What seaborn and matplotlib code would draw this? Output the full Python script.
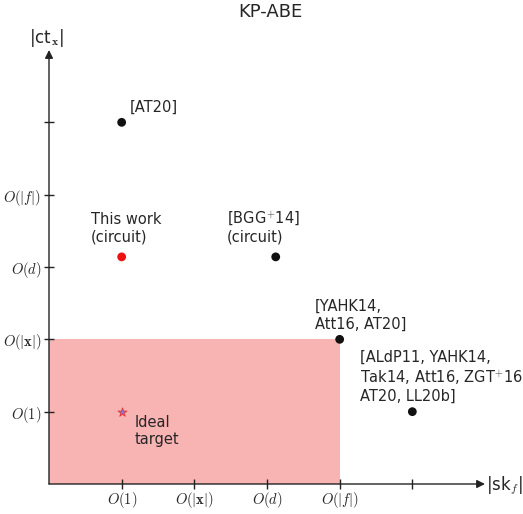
import matplotlib
matplotlib.use("Agg")
import matplotlib.pyplot as plt
import seaborn as sns
import pandas as pd
from matplotlib.patches import Rectangle

sns.set_theme(style="white")
plt.rcParams['font.family'] = ['DejaVu Sans']
plt.rcParams['mathtext.fontset'] = 'cm'

# Data
x_tick_labels = [r"$O(1)$", r"$O(|\mathbf{x}|)$", r"$O(d)$", r"$O(|f|)$", ""]
y_tick_labels = [r"$O(1)$", r"$O(|\mathbf{x}|)$", r"$O(d)$", r"$O(|f|)$", ""]
point_x = [1, 1, 3.12, 4, 5]
point_y = [5, 3.14, 3.14, 2, 1]
point_labels = ["[AT20]", "This work\n(circuit)", "[BGG$^{+}$14]\n(circuit)",
                "[YAHK14,\nAtt16, AT20]",
                "[ALdP11, YAHK14,\nTak14, Att16, ZGT$^{+}$16\nAT20, LL20b]"]
point_colors = ["#111111", "#ee1111", "#111111", "#111111", "#111111"]
target_x = [1]
target_y = [1]
target_label = "Ideal\ntarget"
region_x = 4
region_y = 2

df = pd.DataFrame({"x": point_x, "y": point_y, "label": point_labels, "color": point_colors})

W, H = 523, 514
fig = plt.figure(figsize=(W / 100, H / 100), dpi=100)
ax = fig.add_axes([49 / W, (H - 484) / H, 436 / W, 434 / H])
ax.set_xlim(0, 6)
ax.set_ylim(0, 6)

ax.add_patch(Rectangle((0, 0), region_x, region_y, facecolor="#f8b3b3", edgecolor="none", zorder=0))

sns.scatterplot(data=df, x="x", y="y", hue="label", palette=dict(zip(point_labels, point_colors)),
                s=40, edgecolor="none", legend=False, ax=ax, zorder=5)
ax.scatter(target_x, target_y, marker="*", s=45, color="#8877cc", edgecolor="#ee3333",
           linewidth=0.6, zorder=5)

offsets = [(8, 8), (-31, 12), (-49, 12), (-25, 8), (-52, 8)]
for (px, py, lab), (dx, dy) in zip(zip(point_x, point_y, point_labels), offsets):
    ax.annotate(lab, (px, py), xytext=(dx * 0.72, dy * 0.72), textcoords="offset points",
                ha="left", va="bottom", fontsize=10.5, linespacing=1.22)
ax.annotate(target_label, (target_x[0], target_y[0]), xytext=(13 * 0.72, -3 * 0.72),
            textcoords="offset points", ha="left", va="top", fontsize=10.5, linespacing=1.22)

for s in ax.spines.values():
    s.set_visible(False)
ax.set_xticks([1, 2, 3, 4, 5])
ax.set_yticks([1, 2, 3, 4, 5])
ax.set_xticklabels(x_tick_labels, fontsize=10.5)
ax.set_yticklabels(y_tick_labels, fontsize=10.5)
ax.tick_params(axis="both", direction="inout", length=7, width=1, color="#222222",
               bottom=True, left=True)
ax.tick_params(axis="x", pad=1)
ax.tick_params(axis="y", pad=2)
ax.set_xlabel("")
ax.set_ylabel("")

ax.annotate("", xy=(6, 0), xytext=(0, 0),
            arrowprops=dict(arrowstyle="-|>", color="#222222", lw=1, mutation_scale=12,
                            shrinkA=0, shrinkB=0), annotation_clip=False)
ax.annotate("", xy=(0, 6), xytext=(0, 0),
            arrowprops=dict(arrowstyle="-|>", color="#222222", lw=1, mutation_scale=12,
                            shrinkA=0, shrinkB=0), annotation_clip=False)

fig.text(504 / W, 1 - 486 / H, r"|sk$_{f}$|", ha="center", va="center", fontsize=12)
fig.text(46 / W, 1 - 38 / H, r"|ct$_{\mathbf{x}}$|", ha="center", va="center", fontsize=12)
fig.text(270 / W, 1 - 12 / H, "KP-ABE", ha="center", va="center", fontsize=13)

fig.savefig("out.png", dpi=100)
